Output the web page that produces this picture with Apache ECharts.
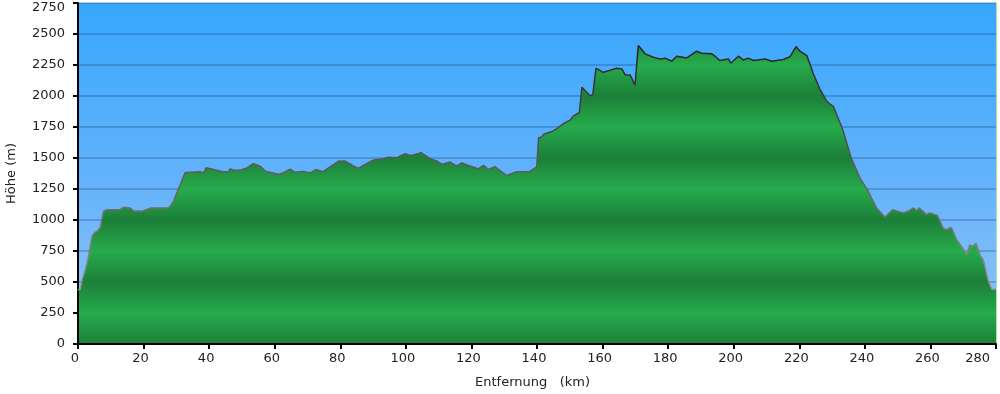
<!DOCTYPE html>
<html><head><meta charset="utf-8">
<script src="https://cdn.jsdelivr.net/npm/echarts@6/dist/echarts.min.js"></script>
<style>html,body{margin:0;padding:0;background:#fff}#c{width:1000px;height:394px}</style>
</head><body><div id="c"></div>
<script>
const distanceKm = [0,0.7,1.2,2.2,3.2,4.3,5.1,5.8,6.8,7.8,8.8,12.9,13.9,15.9,17.2,18.5,19.5,22.3,27.7,29.1,32.7,37.3,38.3,39.1,41,44.2,45.9,46.4,47.4,49.7,51.5,53.5,55.6,57.1,61.4,63,64.7,66.2,68.8,70.8,72.6,74.6,77,79.5,81.5,84,85.5,88,90.1,93.2,94.7,97.3,99.8,101.3,102.8,104.6,107.4,109.5,111,113.5,115.5,117.1,119.1,122.1,123.7,125.2,127.2,130.8,133.8,137.6,139.9,140.5,141.5,142,145,148,150.1,151.1,152.9,153.7,156.2,157,158,160.2,161.8,164.3,165.9,166.9,168.4,169.9,170.9,173,175.5,177.5,179.1,181.1,182.6,185.7,188.7,190.2,193.3,194.3,195.8,198.4,199.1,201.4,202.9,204.5,206,209.6,211.6,215.1,217.2,219,220.2,222.3,224.3,226.3,228.3,229.4,230.4,233.1,236,238.5,241,243.6,246.1,248.5,251.7,253.2,254.8,255.8,256.6,258.8,259.8,262.1,263.9,264.7,266.4,268,269.5,271.1,272,272.9,273.9,275.1,276.1,277.6,278.7,280];
const elevationM = [435,440,516,597,705,867,900,908,940,1070,1083,1085,1102,1097,1070,1073,1070,1097,1097,1150,1383,1389,1380,1421,1410,1389,1390,1413,1402,1404,1420,1455,1434,1394,1367,1385,1410,1385,1392,1380,1407,1389,1430,1474,1475,1436,1416,1455,1483,1494,1507,1502,1535,1521,1528,1543,1494,1475,1448,1467,1434,1461,1440,1413,1440,1407,1429,1359,1389,1389,1428,1664,1670,1691,1718,1776,1805,1838,1867,2070,2002,2010,2224,2191,2204,2224,2218,2170,2170,2088,2407,2340,2313,2299,2305,2280,2321,2307,2361,2345,2340,2321,2286,2299,2264,2321,2291,2305,2286,2299,2280,2294,2318,2399,2361,2326,2178,2056,1961,1934,1916,1740,1489,1340,1232,1097,1024,1083,1057,1070,1097,1075,1097,1043,1057,1037,935,921,940,840,786,719,800,786,813,719,678,516,441,441];
const xAxisName = 'Entfernung   (km)';
const yAxisName = 'Höhe (m)';

const Y_MAX = 2750, Y_STEP = 250;
const TOP = 3, BOTTOM_PX = 344;

const greenStops = [];
for (let e = 0; e <= Y_MAX; e += Y_STEP) {
  greenStops.push({offset: 1 - e / Y_MAX, color: (e % 500 === 0) ? '#1c7f38' : '#26ab4d'});
}
greenStops.reverse();

const chart = echarts.init(document.getElementById('c'));
const font = 'DejaVu Sans';
chart.setOption({
  animation: false,
  textStyle: {fontFamily: font},
  grid: {
    left: 78, right: 4, top: TOP, bottom: 50, show: true, borderWidth: 0,
    containLabel: false, outerBoundsMode: 'none',
    backgroundColor: new echarts.graphic.LinearGradient(0, 0, 0, 1, [
      {offset: 0, color: '#38a7fd'},
      {offset: 0.5, color: '#62b2fb'},
      {offset: 1, color: '#95c5f6'}
    ])
  },
  xAxis: {
    type: 'value', min: 0, max: 280, interval: 20, z: 4,
    name: xAxisName, nameLocation: 'middle', nameGap: 32,
    nameTextStyle: {fontSize: 13, color: '#222', fontFamily: font, padding: [0, 9, 0, 0]},
    axisLine: {show: true, lineStyle: {color: '#000', width: 2}},
    axisTick: {show: true, length: 5, lineStyle: {color: '#000', width: 2}},
    axisLabel: {fontSize: 13, color: '#222', margin: 8, fontFamily: font, padding: [0, 6, 0, 0],
      alignMaxLabel: 'right', formatter: v => String(v)},
    splitLine: {show: false}
  },
  yAxis: [{
    type: 'value', min: 0, max: Y_MAX, interval: Y_STEP, z: 3,
    name: yAxisName, nameLocation: 'middle', nameGap: 60, nameRotate: 90,
    nameTextStyle: {fontSize: 13, color: '#222', fontFamily: font},
    axisLine: {show: true, lineStyle: {color: '#000', width: 2}},
    axisTick: {show: true, length: 5, lineStyle: {color: '#000', width: 2}},
    axisLabel: {fontSize: 13, color: '#222', margin: 13, fontFamily: font,
      formatter: v => v === Y_MAX ? '{m|' + v + '}' : String(v),
      rich: {m: {fontSize: 13, color: '#222', fontFamily: font, padding: [10, 0, 0, 0]}}},
    splitLine: {show: true, lineStyle: {color: 'rgba(10,40,80,0.3)', width: 1.5}}
  }, {
    type: 'value', min: 0, max: Y_MAX, interval: Y_STEP, position: 'right', z: 3,
    axisLine: {show: true, lineStyle: {color: '#a6e8a0', width: 1}},
    axisTick: {show: false}, axisLabel: {show: false}, splitLine: {show: false}
  }],
  series: [{
    type: 'line',
    data: distanceKm.map((d, i) => [d, elevationM[i]]),
    showSymbol: false, symbol: 'none',
    lineStyle: {
      width: 1.5,
      color: new echarts.graphic.LinearGradient(0, TOP, 0, BOTTOM_PX, [
        {offset: 0, color: '#111111'},
        {offset: 1, color: '#aaaaaa'}
      ], true)
    },
    areaStyle: {
      opacity: 1,
      color: new echarts.graphic.LinearGradient(0, TOP, 0, BOTTOM_PX, greenStops, true)
    }
  }]
});
</script>
</body></html>
